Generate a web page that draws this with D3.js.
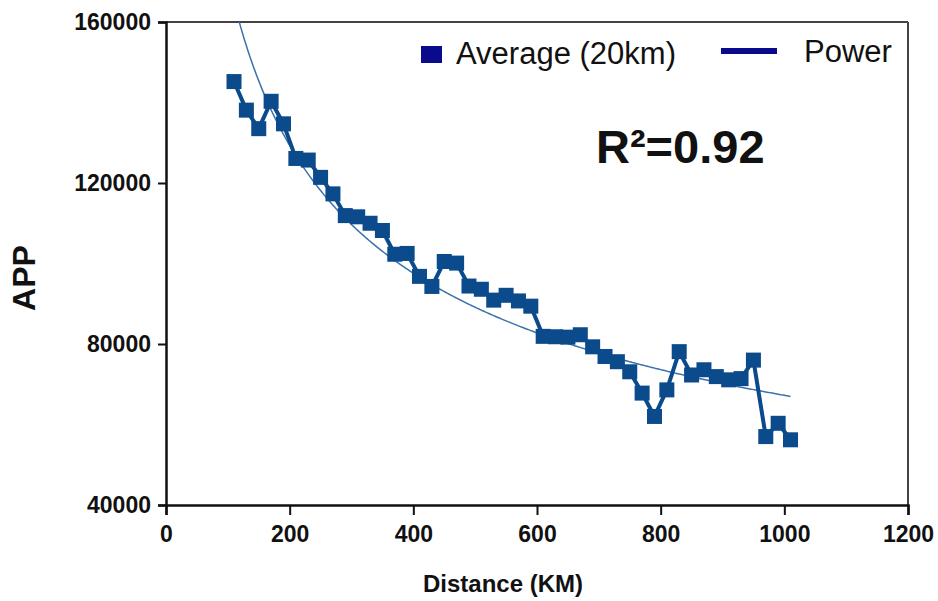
<!DOCTYPE html>
<html>
<head>
<meta charset="utf-8">
<script src="https://cdn.jsdelivr.net/npm/d3@7/dist/d3.min.js"></script>
<style>
  html, body { margin: 0; padding: 0; background: #ffffff; }
  svg { display: block; font-family: "Liberation Sans", Arial, sans-serif; }
</style>
</head>
<body>
<svg id="chart" width="938" height="601"></svg>
<script>
// ---- Data ----
const distanceKm = [110,130,150,170,190,210,230,250,270,290,310,330,350,370,390,410,430,450,470,490,
                    510,530,550,570,590,610,630,650,670,690,710,730,750,770,790,810,830,850,870,890,
                    910,930,950,970,990,1010];
const appAverage = [145200,138100,133500,140300,134700,126100,125700,121400,117300,111900,111600,110000,108200,102300,102500,96800,94300,100500,100100,94400,
                    93600,90900,92100,90700,89400,81900,81800,81700,82300,79300,76900,75600,73100,67800,62000,68600,78100,72300,73600,71900,
                    71100,71400,76000,57000,60300,56200];
const xTicks = [0,200,400,600,800,1000,1200];
const yTicks = [40000,80000,120000,160000];
const seriesNames = ["Average (20km)", "Power"];
const r2Label = "R\u00B2=0.92";
const xTitle = "Distance (KM)";
const yTitle = "APP";

(function () {
// ---- Layout ----
const svg = d3.select("#chart");
const pLeft = 166, pRight = 908, pTop = 22, pBottom = 505;
const x = d3.scaleLinear().domain([0, 1200]).range([pLeft, pRight]);
const y = d3.scaleLinear().domain([40000, 160000]).range([pBottom, pTop]);

const dataColor = "#0b4a8b";
const trendColor = "#3a72aa";
const legendColor = "#0a0a8c";

svg.append("clipPath").attr("id", "plotclip")
  .append("rect").attr("x", pLeft).attr("y", pTop).attr("width", pRight - pLeft).attr("height", pBottom - pTop);

// frame (top & right)
svg.append("line").attr("x1", pLeft).attr("x2", pRight).attr("y1", pTop).attr("y2", pTop)
  .attr("stroke", "#444").attr("stroke-width", 2);
svg.append("line").attr("x1", pRight).attr("x2", pRight).attr("y1", pTop).attr("y2", pBottom)
  .attr("stroke", "#444").attr("stroke-width", 2);

// axes
const xAxis = d3.axisBottom(x).tickValues(xTicks).tickSize(10).tickPadding(11).tickFormat(d3.format("d"));
const yAxis = d3.axisLeft(y).tickValues(yTicks).tickSize(8).tickPadding(7).tickFormat(d3.format("d"));

const gx = svg.append("g").attr("transform", `translate(0,${pBottom})`).call(xAxis);
const gy = svg.append("g").attr("transform", `translate(${pLeft},0)`).call(yAxis);
[gx, gy].forEach(g => {
  g.select(".domain").attr("stroke", "#111").attr("stroke-width", 2.5);
  g.selectAll(".tick line").attr("stroke", "#111").attr("stroke-width", 2);
  g.selectAll(".tick text").attr("fill", "#111").attr("font-size", 23).attr("font-weight", "bold")
    .attr("font-family", "Liberation Sans, Arial, sans-serif");
});

// power trendline fitted from the data (least squares in log-log space)
const lx = distanceKm.map(Math.log), ly = appAverage.map(Math.log);
const mx = d3.mean(lx), my = d3.mean(ly);
const b = d3.sum(lx.map((v, i) => (v - mx) * (ly[i] - my))) / d3.sum(lx.map(v => (v - mx) * (v - mx)));
const a = Math.exp(my - b * mx);
const xs = d3.range(d3.min(distanceKm), d3.max(distanceKm) + 0.5, 2);
svg.append("path")
  .attr("clip-path", "url(#plotclip)")
  .attr("d", d3.line().x(d => x(d)).y(d => y(a * Math.pow(d, b)))(xs))
  .attr("fill", "none").attr("stroke", trendColor).attr("stroke-width", 1.5);

// data line
const pts = distanceKm.map((d, i) => [d, appAverage[i]]);
svg.append("path")
  .attr("d", d3.line().x(d => x(d[0])).y(d => y(d[1]))(pts))
  .attr("fill", "none").attr("stroke", dataColor).attr("stroke-width", 4).attr("stroke-linejoin", "round");

// markers
const ms = 15;
svg.append("g").selectAll("rect").data(pts).join("rect")
  .attr("x", d => x(d[0]) - ms / 2).attr("y", d => y(d[1]) - ms / 2)
  .attr("width", ms).attr("height", ms).attr("fill", dataColor);

// legend
svg.append("rect").attr("x", 421).attr("y", 46).attr("width", 21).attr("height", 17).attr("fill", legendColor);
svg.append("text").attr("x", 456).attr("y", 64).attr("font-size", 31).attr("fill", "#111").text(seriesNames[0]);
svg.append("line").attr("x1", 721).attr("x2", 777).attr("y1", 51).attr("y2", 51)
  .attr("stroke", legendColor).attr("stroke-width", 6);
svg.append("text").attr("x", 804).attr("y", 62).attr("font-size", 31).attr("fill", "#111").text(seriesNames[1]);

// R² label
svg.append("text").attr("x", 596).attr("y", 163).attr("font-size", 47).attr("font-weight", "bold")
  .attr("fill", "#111").text(r2Label);

// axis titles
svg.append("text").attr("x", 503).attr("y", 592).attr("text-anchor", "middle")
  .attr("font-size", 24).attr("font-weight", "bold").attr("fill", "#111").text(xTitle);
svg.append("text").attr("transform", "translate(35,278) rotate(-90)").attr("text-anchor", "middle")
  .attr("font-size", 32).attr("font-weight", "bold").attr("fill", "#111").text(yTitle);
})();
</script>
</body>
</html>
